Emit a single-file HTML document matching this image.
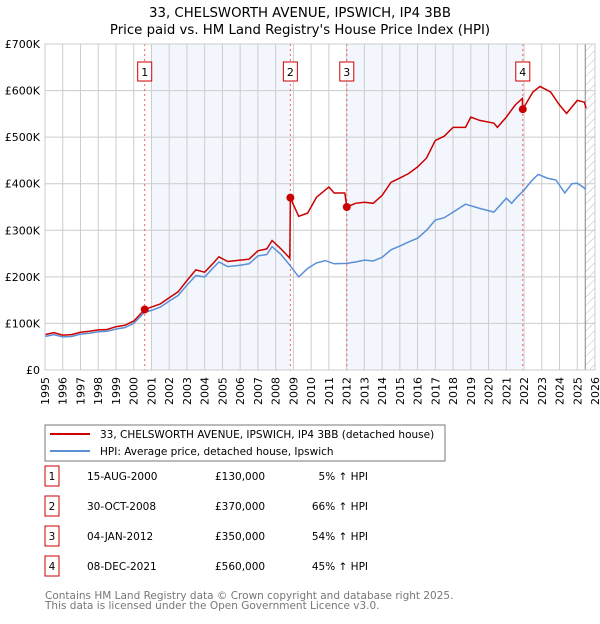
<!DOCTYPE html>
<html><head><meta charset="utf-8"><style>
body{margin:0;background:#fff;font-family:"DejaVu Sans","Liberation Sans",sans-serif;}
svg text{font-family:"DejaVu Sans","Liberation Sans",sans-serif;}
</style></head><body>
<svg id="c" width="600" height="620" xmlns="http://www.w3.org/2000/svg">
<defs><pattern id="hatch" width="6" height="6" patternUnits="userSpaceOnUse" patternTransform="rotate(45)"><line x1="0" y1="0" x2="0" y2="6" stroke="#bbb" stroke-width="1"/></pattern></defs>
<text x="300" y="17" text-anchor="middle" font-size="13.3" fill="#000">33, CHELSWORTH AVENUE, IPSWICH, IP4 3BB</text>
<text x="300" y="34" text-anchor="middle" font-size="13.3" fill="#000">Price paid vs. HM Land Registry's House Price Index (HPI)</text>
<g id="plot"></g>
<rect x="45" y="425" width="400" height="36" fill="#fff" stroke="#777"/>
<line x1="50" y1="434" x2="90" y2="434" stroke="#cc0000" stroke-width="2"/>
<text x="100" y="438" font-size="10.5">33, CHELSWORTH AVENUE, IPSWICH, IP4 3BB (detached house)</text>
<line x1="50" y1="451" x2="90" y2="451" stroke="#5b8fd6" stroke-width="2"/>
<text x="100" y="455" font-size="10.5">HPI: Average price, detached house, Ipswich</text>
<g id="table" font-size="10.5"></g>
<text x="45" y="599" font-size="10.5" fill="#777">Contains HM Land Registry data © Crown copyright and database right 2025.</text>
<text x="45" y="609" font-size="10.5" fill="#777">This data is licensed under the Open Government Licence v3.0.</text>
</svg>
<script>
const hpiYears=[1995,1995.5,1996,1996.5,1997,1997.5,1998,1998.5,1999,1999.5,2000,2000.6,2001,2001.5,2002,2002.5,2003,2003.5,2004,2004.5,2004.8,2005.3,2006,2006.5,2007,2007.5,2007.8,2008.3,2008.8,2009.3,2009.8,2010.3,2010.8,2011.3,2012,2012.5,2013,2013.5,2014,2014.5,2015,2015.5,2016,2016.5,2017,2017.5,2018,2018.7,2019.5,2020.3,2021,2021.3,2021.6,2022,2022.4,2022.8,2023.3,2023.8,2024.3,2024.7,2025,2025.5];
const hpiValues=[72,76,71,72,77,79,82,83,88,91,100,124,128,135,148,160,182,203,200,220,232,222,225,228,245,248,265,248,225,200,218,230,235,228,229,232,236,234,242,258,266,275,283,300,322,327,339,356,347,339,369,358,371,386,405,420,412,408,380,400,401,388];
const priceYears=[1995,1995.5,1996,1996.5,1997,1997.5,1998,1998.5,1999,1999.5,2000,2000.62,2001,2001.5,2002,2002.5,2003,2003.5,2004,2004.5,2004.8,2005.3,2006,2006.5,2007,2007.5,2007.8,2008.3,2008.8,2008.83,2009,2009.3,2009.8,2010.3,2011,2011.3,2011.9,2012.01,2012.5,2013,2013.5,2014,2014.5,2015,2015.5,2016,2016.5,2017,2017.5,2018,2018.7,2019,2019.5,2020.3,2020.5,2021,2021.5,2021.9,2021.93,2022.5,2022.9,2023.5,2024,2024.4,2025,2025.4,2025.5];
const priceValues=[76,80,75,76,81,83,86,87,93,96,105,130,135,142,155,168,192,215,210,230,243,233,236,238,256,260,278,260,240,370,355,330,337,371,393,380,380,350,358,360,358,375,403,412,422,436,455,493,502,521,521,543,536,530,521,543,569,583,560,597,609,597,569,551,579,575,562];
const saleYears=[2000.62,2008.83,2012.01,2021.93];
const saleValues=[130,370,350,560];
const saleLabels=["1","2","3","4"];
const saleDates=["15-AUG-2000","30-OCT-2008","04-JAN-2012","08-DEC-2021"];
const salePrices=["£130,000","£370,000","£350,000","£560,000"];
const saleDiffs=["5% ↑ HPI","66% ↑ HPI","54% ↑ HPI","45% ↑ HPI"];
const yTicks=[0,100,200,300,400,500,600,700];
const yTickLabels=["£0","£100K","£200K","£300K","£400K","£500K","£600K","£700K"];
const xTicks=[];for(let y=1995;y<=2026;y++)xTicks.push(y);

const X0=45,X1=595,Y0=370,Y1=44;
const xs=y=>X0+(y-1995)/(2026-1995)*(X1-X0);
const ys=v=>Y0-v/700*(Y0-Y1);
const NS="http://www.w3.org/2000/svg";
const plot=document.getElementById('plot');
function mk(tag,at,parent){const e=document.createElementNS(NS,tag);for(const k in at)e.setAttribute(k,at[k]);(parent||plot).appendChild(e);return e;}
let r;
r=mk('rect',{x:X0,y:Y1,width:X1-X0,height:Y0-Y1,fill:'#fff'});


r=mk('rect',{x:xs(2001),y:Y1,width:xs(saleYears[1])-xs(2001),height:Y0-Y1,fill:'#eef3fc',opacity:0.7});


r=mk('rect',{x:xs(saleYears[2]),y:Y1,width:xs(saleYears[3])-xs(saleYears[2]),height:Y0-Y1,fill:'#eef3fc',opacity:0.7});


r=mk('rect',{x:xs(2025.45),y:Y1,width:X1-xs(2025.45),height:Y0-Y1,fill:'url(#hatch)'});


xTicks.forEach(t=>{
 const l=mk('line',{x1:xs(t),x2:xs(t),y1:Y1,y2:Y0,stroke:'#ccc','stroke-width':1});
 
 
 const tx=mk('text',{x:0,y:0,'font-size':11,'text-anchor':'end',transform:`translate(${xs(t)+4},377) rotate(-90)`});
 tx.textContent=t;
 
 
});
yTicks.forEach((t,i)=>{
 const l=mk('line',{x1:X0,x2:X1,y1:ys(t),y2:ys(t),stroke:'#ccc','stroke-width':1});
 
 
 const tx=mk('text',{x:40,y:ys(t)+4,'font-size':11,'text-anchor':'end'});
 tx.textContent=yTickLabels[i];
 
 
});
mk('line',{x1:xs(2025.45),x2:xs(2025.45),y1:Y1,y2:Y0,stroke:'#888','stroke-width':1});
saleYears.forEach((y,i)=>{
 const l=mk('line',{x1:xs(y),x2:xs(y),y1:Y1,y2:Y0,stroke:'#f06060','stroke-width':1,'stroke-dasharray':'2,3'});
 
 
});
const path=(xa,va)=>xa.map((y,i)=>(i?'L':'M')+xs(y).toFixed(1)+','+ys(va[i]).toFixed(1)).join('');
let p=mk('path',{d:path(hpiYears,hpiValues),fill:'none',stroke:'#5b8fd6','stroke-width':1.5});


p=mk('path',{d:path(priceYears,priceValues),fill:'none',stroke:'#cc0000','stroke-width':1.5});


saleYears.forEach((y,i)=>{
 const c=mk('circle',{cx:xs(y),cy:ys(saleValues[i]),r:4,fill:'#cc0000'});
 
 
 const g=mk('g',{});
 
 
 mk('rect',{x:xs(y)-7,y:62,width:14,height:19,fill:'#fff',stroke:'#cc0000'},g);
 const t=mk('text',{x:xs(y),y:76,'font-size':11,'text-anchor':'middle'},g);
 t.textContent=saleLabels[i];
});
mk('rect',{x:X0,y:Y1,width:X1-X0,height:Y0-Y1,fill:'none',stroke:'#ccc'});
const tbl=document.getElementById('table');
const rowY=[483,513,543,573];
saleLabels.forEach((s,i)=>{
 const y=rowY[i];
 const g=mk('g',{},tbl);
 
 
 mk('rect',{x:45,y:y-17,width:14,height:20,fill:'#fff',stroke:'#cc0000'},g);
 let t=mk('text',{x:52,y:y-3,'text-anchor':'middle'},g);t.textContent=s;
 t=mk('text',{x:87,y:y-3},g);t.textContent=saleDates[i];
 t=mk('text',{x:215,y:y-3},g);t.textContent=salePrices[i];
 t=mk('text',{x:368,y:y-3,'text-anchor':'end'},g);t.textContent=saleDiffs[i];
});
</script>
</body></html>
